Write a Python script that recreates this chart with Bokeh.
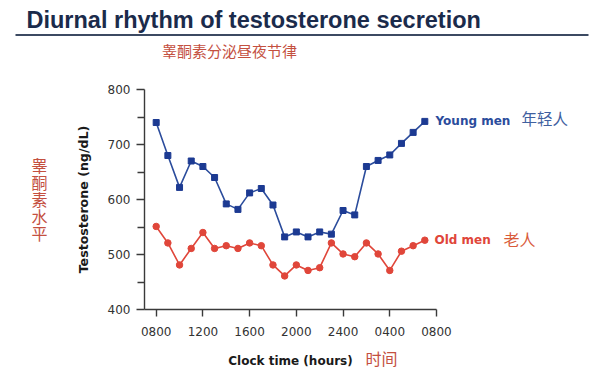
from bokeh.plotting import figure
from bokeh.models import Range1d, FixedTicker, Label, BoxAnnotation
from bokeh.embed import file_html
from bokeh.resources import INLINE

# ---- data ----
hours = list(range(8, 32))  # 0800 .. 0700 next day
young = [740, 680, 622, 670, 660, 640, 592, 582, 612, 620, 590, 532,
         541, 532, 541, 537, 580, 572, 660, 671, 681, 702, 722, 742]
old = [551, 521, 481, 511, 540, 511, 516, 511, 521, 516, 481, 461,
       481, 471, 476, 521, 501, 496, 521, 501, 471, 506, 516, 526]
x_ticks = [8, 12, 16, 20, 24, 28, 32]
x_tick_labels = ["0800", "1200", "1600", "2000", "2400", "0400", "0800"]
y_ticks = [400, 500, 600, 700, 800]
y_minor = [450, 550, 650, 750]

title_text = "Diurnal rhythm of testosterone secretion"
subtitle_text = "睾酮素分泌昼夜节律"
ylab_cn = "睾酮素水平"

YOUNG_LINE = "#2b4c9c"
YOUNG_MARK = "#1c3a92"
OLD_COLOR = "#e0463a"
CN_RED = "#c4503f"

W, H = 604, 378
X0, X1, Y0, Y1 = 7, 32, 400, 800
FL, FR, FT, FB = 144, 436, 89, 309  # axis box in canvas px


def px_x(px):
    return X0 + (px - FL) * (X1 - X0) / (FR - FL)


def px_y(py):
    return Y1 - (py - FT) * (Y1 - Y0) / (FB - FT)


p = figure(width=W, height=H, output_backend="svg", toolbar_location=None,
           x_range=Range1d(px_x(0), px_x(W)), y_range=Range1d(px_y(H), px_y(0)),
           min_border=0)
p.outline_line_color = None
p.grid.visible = False
p.background_fill_color = "white"
p.border_fill_color = "white"

# lines and markers
p.line(hours, young, color=YOUNG_LINE, line_width=1.6)
p.scatter(hours, young, marker="square", size=6, color=YOUNG_MARK)
p.line(hours, old, color=OLD_COLOR, line_width=1.6)
p.scatter(hours, old, marker="circle", size=6.5, color=OLD_COLOR)

# axes (fixed inside the frame, bounded to data box)
ax = p.xaxis[0]
ax.fixed_location = Y0
ax.bounds = (X0, X1)
ax.ticker = FixedTicker(ticks=x_ticks)
ax.major_label_overrides = {t: l for t, l in zip(x_ticks, x_tick_labels)}
ax.axis_label = "Clock time (hours)"
ay = p.yaxis[0]
ay.fixed_location = X0
ay.bounds = (Y0, Y1)
ay.ticker = FixedTicker(ticks=y_ticks, minor_ticks=y_minor)
ay.axis_label = "Testosterone (ng/dL)"
for a in (ax, ay):
    a.axis_line_color = "#3a3a3a"
    a.axis_line_width = 1.4
    a.major_tick_line_color = "#3a3a3a"
    a.major_tick_line_width = 1.4
    a.minor_tick_line_color = "#3a3a3a"
    a.minor_tick_line_width = 1.4
    a.major_tick_in = 0
    a.minor_tick_in = 0
    a.major_label_text_font = "DejaVu Sans"
    a.major_label_text_font_size = "12px"
    a.major_label_text_color = "#333333"
    a.axis_label_text_font = "DejaVu Sans"
    a.axis_label_text_font_size = "12px"
    a.axis_label_text_font_style = "bold"
    a.axis_label_text_color = "#1a1a1a"
ay.axis_label_text_font_size = "12.6px"
ax.major_tick_out = 7
ax.minor_tick_out = 0
ax.major_label_standoff = 10
ax.axis_label_standoff = 15
ay.major_tick_out = 8
ay.minor_tick_out = 7
ay.major_label_standoff = 6
ay.axis_label_standoff = 14

# title and underline
p.add_layout(Label(x=px_x(26), y=px_y(32), text=title_text,
                   text_font="Liberation Sans", text_font_style="bold",
                   text_font_size="23.5px", text_color="#1b2b4b",
                   text_baseline="bottom", text_align="left"))
p.add_layout(BoxAnnotation(left=px_x(15), right=px_x(588), top=px_y(33.5), bottom=px_y(35.5),
                           fill_color="#3c4a62", fill_alpha=1, line_color=None))
p.add_layout(Label(x=px_x(229), y=px_y(50), text=subtitle_text,
                   text_font="Noto Sans CJK SC", text_font_size="15px",
                   text_color=CN_RED, text_baseline="middle", text_align="center"))

# vertical Chinese y label
for i, ch in enumerate(ylab_cn):
    p.add_layout(Label(x=px_x(39), y=px_y(164 + 17 * i), text=ch,
                       text_font="Noto Sans CJK SC", text_font_size="16px",
                       text_color=CN_RED, text_baseline="middle", text_align="center"))

# x label Chinese
p.add_layout(Label(x=px_x(365), y=px_y(357), text="时间",
                   text_font="Noto Sans CJK SC", text_font_size="16px",
                   text_color=CN_RED, text_baseline="middle", text_align="left"))

# series labels
p.add_layout(Label(x=px_x(435), y=px_y(127), text="Young men",
                   text_font="DejaVu Sans", text_font_style="bold", text_font_size="12px",
                   text_color=YOUNG_LINE, text_baseline="bottom", text_align="left"))
p.add_layout(Label(x=px_x(521), y=px_y(117), text="年轻人",
                   text_font="Noto Sans CJK SC", text_font_size="15.5px",
                   text_color="#40609f", text_baseline="middle", text_align="left"))
p.add_layout(Label(x=px_x(434), y=px_y(246.5), text="Old men",
                   text_font="DejaVu Sans", text_font_style="bold", text_font_size="12px",
                   text_color=OLD_COLOR, text_baseline="bottom", text_align="left"))
p.add_layout(Label(x=px_x(503), y=px_y(238), text="老人",
                   text_font="Noto Sans CJK SC", text_font_size="16px",
                   text_color="#d95a3a", text_baseline="middle", text_align="left"))

open("out.html", "w").write(file_html(p, INLINE))
